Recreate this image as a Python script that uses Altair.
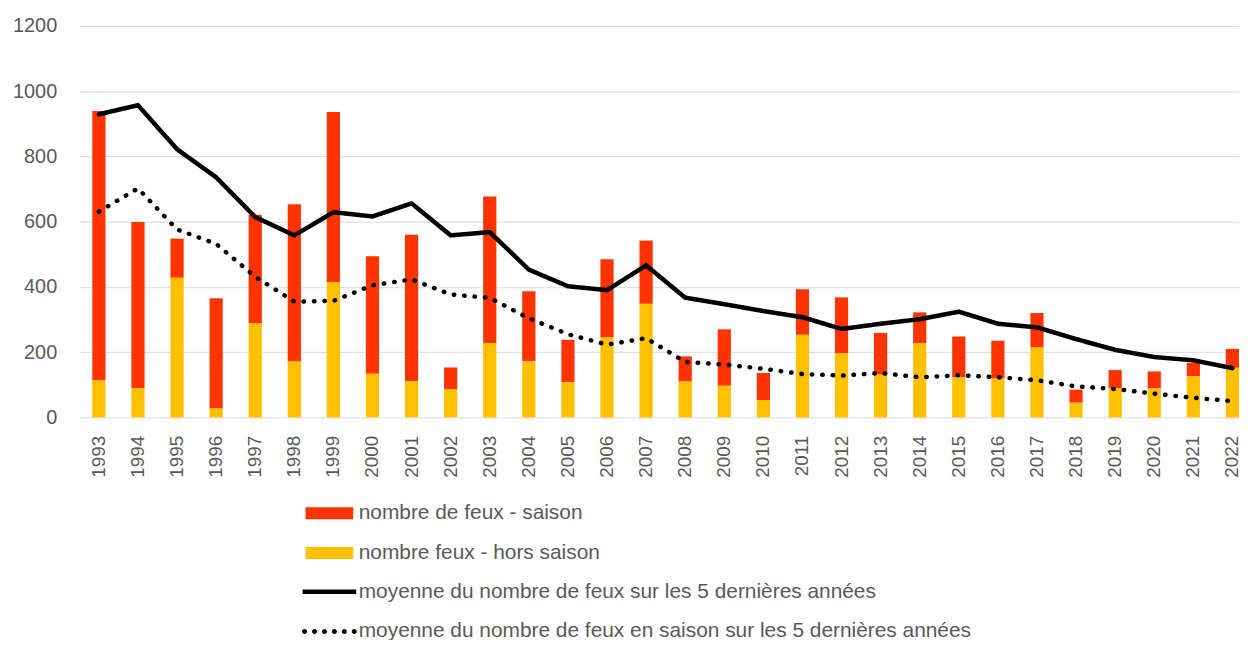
import altair as alt
import pandas as pd

FONT = "Liberation Sans"
GREY = "#595959"

years = ["1993", "1994", "1995", "1996", "1997", "1998", "1999", "2000", "2001", "2002",
         "2003", "2004", "2005", "2006", "2007", "2008", "2009", "2010", "2011", "2012",
         "2013", "2014", "2015", "2016", "2017", "2018", "2019", "2020", "2021", "2022"]

# fires during the season (red, stacked on top)
saison = [826, 509, 120, 338, 333, 482, 521, 360, 449, 66,
          449, 215, 130, 240, 194, 77, 173, 83, 140, 172,
          128, 94, 125, 116, 106, 40, 56, 52, 41, 58]
# fires outside the season (yellow, bottom)
hors_saison = [113, 90, 428, 27, 288, 171, 415, 134, 111, 87,
               228, 172, 108, 245, 348, 110, 97, 53, 253, 196,
               131, 228, 123, 119, 214, 45, 89, 89, 126, 152]
# 5-year average of all fires
moyenne_5 = [929, 957, 822, 736, 614, 558, 629, 616, 656, 558,
             568, 453, 402, 390, 466, 367, 347, 326, 307, 271,
             287, 301, 324, 287, 276, 240, 207, 185, 175, 151]
# 5-year average of season fires
moyenne_saison_5 = [631, 702, 576, 532, 431, 355, 357, 405, 423, 377,
                    366, 304, 255, 223, 243, 170, 162, 149, 133, 128,
                    136, 123, 129, 123, 114, 95, 87, 73, 60, 50]

S1 = "nombre de feux - saison"
S2 = "nombre feux - hors saison"
L1 = "moyenne du nombre de feux sur les 5 dernières années"
L2 = "moyenne du nombre de feux en saison sur les 5 dernières années"

n = len(years)
bars_df = pd.DataFrame({
    "annee": years + years,
    "serie": [S1] * n + [S2] * n,
    "valeur": saison + hors_saison,
    "ordre": [1] * n + [0] * n,
})
lines_df = pd.DataFrame({
    "annee": years + years,
    "serie": [L1] * n + [L2] * n,
    "valeur": moyenne_5 + moyenne_saison_5,
})

# legend symbol shapes (units of 6 px)
LINE_PATH = "M-4.5,0H4.5"
r = 0.42
DOTS_PATH = ""
for cx in [-4.17, -2.5, -0.83, 0.83, 2.5, 4.17]:
    DOTS_PATH += f"M{cx - r:.2f},0A{r},{r} 0 1,0 {cx + r:.2f},0A{r},{r} 0 1,0 {cx - r:.2f},0Z"

x_enc = alt.X(
    "annee:N", sort=years, title=None,
    scale=alt.Scale(paddingInner=0.662, paddingOuter=0.163, align=1),
    axis=alt.Axis(labelAngle=-90, labelFontSize=19, labelColor=GREY, labelFont=FONT,
                  labelPadding=18, ticks=False, domain=False, grid=False),
)
y_axis = alt.Axis(values=[0, 200, 400, 600, 800, 1000, 1200], format="d", labelFontSize=20,
                  labelColor=GREY, labelFont=FONT, labelPadding=23, ticks=False,
                  domain=False, gridColor="#D9D9D9", gridWidth=1)
y_scale = alt.Scale(domain=[0, 1200], nice=False)

bars = alt.Chart(bars_df).mark_bar().encode(
    x=x_enc,
    y=alt.Y("valeur:Q", title=None, stack="zero", scale=y_scale, axis=y_axis),
    color=alt.Color(
        "serie:N",
        scale=alt.Scale(domain=[S1, S2], range=["#FF3300", "#FFC000"]),
        legend=alt.Legend(title=None, orient="none", legendX=241, legendY=480,
                          direction="vertical", columns=1,
                          symbolType="M-4,-1H4V1H-4Z", symbolSize=144,
                          symbolStrokeWidth=0, labelFontSize=21, labelFont=FONT,
                          labelColor=GREY, labelOffset=19, labelLimit=0,
                          rowPadding=18, padding=0),
    ),
    order=alt.Order("ordre:Q"),
)

lines = alt.Chart(lines_df).mark_line(color="black", strokeWidth=4.5, strokeCap="round").encode(
    x=x_enc,
    y=alt.Y("valeur:Q", title=None, scale=y_scale, axis=y_axis),
    strokeDash=alt.StrokeDash(
        "serie:N",
        scale=alt.Scale(domain=[L1, L2], range=[[1, 0], [0.5, 10]]),
        legend=alt.Legend(title=None, orient="none", legendX=241, legendY=559,
                          direction="vertical", columns=1,
                          symbolType=alt.ExprRef(expr=f"datum.index == 1 ? '{DOTS_PATH}' : '{LINE_PATH}'"),
                          symbolSize=144,
                          symbolStrokeWidth=alt.ExprRef(expr="datum.index == 1 ? 0 : 4.5"),
                          symbolStrokeColor="black", symbolFillColor="black",
                          labelFontSize=21, labelFont=FONT, labelColor=GREY,
                          labelOffset=19, labelLimit=0, rowPadding=18, padding=0),
    ),
)

chart = alt.layer(bars, lines).resolve_legend(color="independent", strokeDash="independent").properties(
    width=1167,
    height=394,
    autosize=alt.AutoSizeParams(type="none"),
    padding={"left": 72, "top": 16, "right": 3, "bottom": 222},
    background="white",
).configure_view(stroke=None)

chart.save("out.html", embed_options={"renderer": "svg", "actions": False})
